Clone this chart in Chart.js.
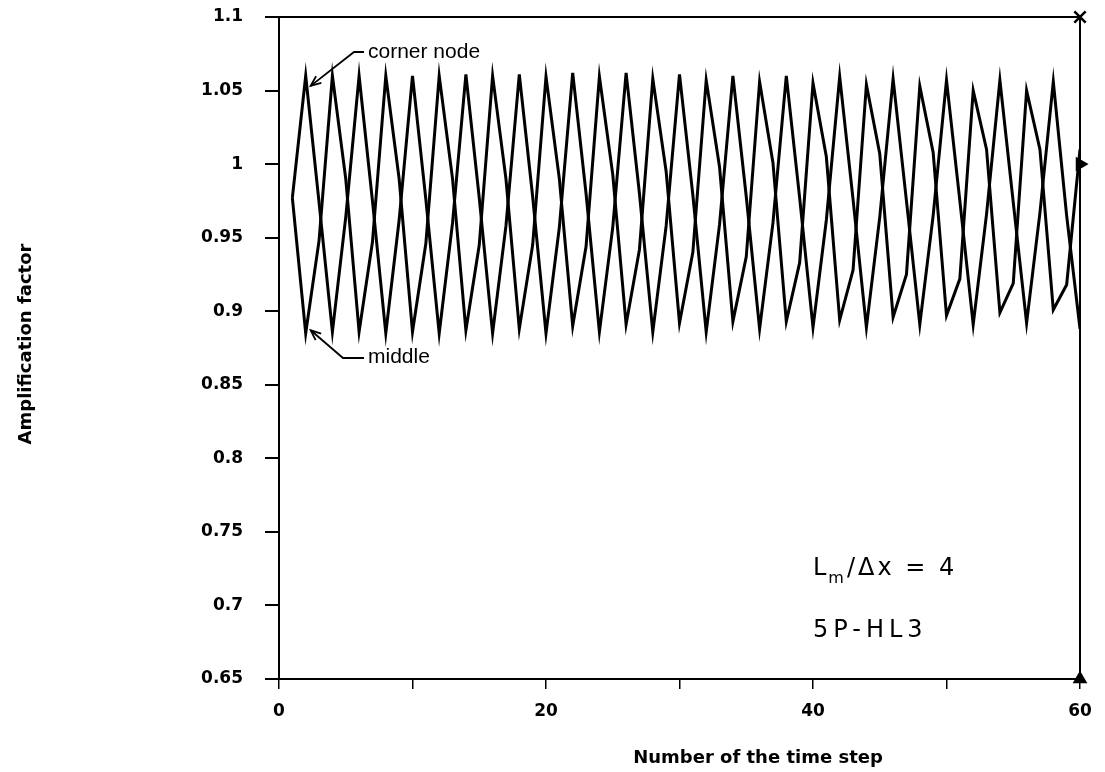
<!DOCTYPE html>
<html lang="en">
<head>
<meta charset="UTF-8">
<title>Amplification factor</title>
<script src="https://cdn.jsdelivr.net/npm/chart.js"></script>
<style>
  body { margin: 0; background: #fff; }
  canvas { display: block; }
</style>
</head>
<body>
<canvas id="ampChart" width="1105" height="772"></canvas>
<script>
// number of the time step
const steps = [1, 2, 3, 4, 5, 6, 7, 8, 9, 10, 11, 12, 13, 14, 15, 16, 17, 18, 19, 20,
               21, 22, 23, 24, 25, 26, 27, 28, 29, 30, 31, 32, 33, 34, 35, 36, 37, 38, 39, 40,
               41, 42, 43, 44, 45, 46, 47, 48, 49, 50, 51, 52, 53, 54, 55, 56, 57, 58, 59, 60];

// amplification factor, corner node
const cornerNode = [0.977, 1.060, 0.974, 0.886, 0.964, 1.060, 0.975, 0.885, 0.962, 1.060,
                    0.976, 0.885, 0.960, 1.061, 0.977, 0.885, 0.958, 1.061, 0.978, 0.885,
                    0.957, 1.062, 0.980, 0.886, 0.957, 1.062, 0.980, 0.886, 0.958, 1.061,
                    0.979, 0.886, 0.959, 1.060, 0.978, 0.888, 0.960, 1.060, 0.977, 0.889,
                    0.962, 1.0595, 0.976, 0.889, 0.964, 1.058, 0.975, 0.891, 0.965, 1.057,
                    0.975, 0.891, 0.966, 1.057, 0.974, 0.892, 0.967, 1.056, 0.965, 0.888];

// amplification factor, middle
const middleNode = [0.977, 0.885, 0.948, 1.060, 0.990, 0.886, 0.947, 1.060, 0.990, 0.886,
                    0.946, 1.060, 0.990, 0.887, 0.945, 1.060, 0.990, 0.888, 0.945, 1.0595,
                    0.990, 0.890, 0.944, 1.0595, 0.993, 0.891, 0.942, 1.058, 0.995, 0.892,
                    0.940, 1.057, 0.998, 0.893, 0.937, 1.056, 1.001, 0.893, 0.933, 1.055,
                    1.005, 0.894, 0.928, 1.054, 1.007, 0.896, 0.925, 1.053, 1.008, 0.897,
                    0.922, 1.050, 1.010, 0.899, 0.919, 1.050, 1.010, 0.901, 0.918, 1.010];

// the three symbols sitting on the right edge
const markerSteps = [60, 60, 60];
const markerValues = [1.1, 1.0, 0.65];

const xTicksShown = [0, 20, 40, 60];

const toPoints = (xs, ys) => xs.map((s, i) => ({ x: s, y: ys[i] }));

// frame, axis titles and the notes on the plot
const decorations = {
    id: 'decorations',
    afterDraw(chart) {
        const { ctx, chartArea: a, scales: { x, y } } = chart;
        ctx.save();
        ctx.strokeStyle = '#000';
        ctx.fillStyle = '#000';

        // top and right edges of the box
        ctx.lineWidth = 2;
        ctx.beginPath();
        ctx.moveTo(a.left, a.top);
        ctx.lineTo(a.right, a.top);
        ctx.lineTo(a.right, a.bottom);
        ctx.stroke();

        // axis titles
        ctx.font = 'bold 18px "DejaVu Sans"';
        ctx.textAlign = 'center';
        ctx.textBaseline = 'middle';
        ctx.fillText('Number of the time step', 758, 758);
        ctx.save();
        ctx.translate(26, 344);
        ctx.rotate(-Math.PI / 2);
        ctx.fillText('Amplification factor', 0, 0);
        ctx.restore();

        // arrows to the first peak / trough
        const arrow = (pts) => {
            ctx.lineWidth = 1.8;
            ctx.beginPath();
            ctx.moveTo(pts[0][0], pts[0][1]);
            for (let i = 1; i < pts.length; i++) ctx.lineTo(pts[i][0], pts[i][1]);
            ctx.stroke();
            const [tx, ty] = pts[pts.length - 1];
            const [px, py] = pts[pts.length - 2];
            const ang = Math.atan2(ty - py, tx - px);
            ctx.beginPath();
            ctx.moveTo(tx - 11 * Math.cos(ang - 0.4), ty - 11 * Math.sin(ang - 0.4));
            ctx.lineTo(tx, ty);
            ctx.lineTo(tx - 11 * Math.cos(ang + 0.4), ty - 11 * Math.sin(ang + 0.4));
            ctx.stroke();
        };
        const px2 = x.getPixelForValue(steps[1]);
        const cTop = y.getPixelForValue(cornerNode[1]);
        const mBot = y.getPixelForValue(middleNode[1]);
        arrow([[364, 52], [354, 52], [px2 + 5, cTop + 10]]);
        arrow([[364, 358], [343, 358], [px2 + 5, mBot - 3]]);

        ctx.font = '21px "Liberation Sans"';
        ctx.textAlign = 'left';
        ctx.fillText('corner node', 368, 52);
        ctx.fillText('middle', 368, 357);

        // case label
        ctx.font = '24px "DejaVu Sans"';
        ctx.textBaseline = 'alphabetic';
        ctx.letterSpacing = '3px';
        let cx = 813;
        ctx.fillText('L', cx, 575);
        cx += ctx.measureText('L').width - 1;
        ctx.font = '16px "DejaVu Sans"';
        ctx.fillText('m', cx, 583);
        cx += ctx.measureText('m').width;
        ctx.font = '24px "DejaVu Sans"';
        ctx.fillText('/\u0394x = 4', cx, 575);
        ctx.letterSpacing = '5px';
        ctx.fillText('5P-HL3', 813, 637);
        ctx.restore();
    }
};

new Chart(document.getElementById('ampChart'), {
    type: 'line',
    data: {
        datasets: [
            {
                label: 'corner node',
                data: toPoints(steps, cornerNode),
                borderColor: '#000',
                borderWidth: 3,
                pointRadius: 0,
                tension: 0,
                fill: false
            },
            {
                label: 'middle',
                data: toPoints(steps, middleNode),
                borderColor: '#000',
                borderWidth: 3,
                pointRadius: 0,
                tension: 0,
                fill: false
            },
            {
                label: 'markers',
                data: toPoints(markerSteps, markerValues),
                showLine: false,
                pointStyle: ['crossRot', 'triangle', 'triangle'],
                rotation: [0, 90, 0],
                pointRadius: [8, 6, 6],
                borderColor: '#000',
                backgroundColor: '#000',
                borderWidth: 2.5,
                clip: false
            }
        ]
    },
    options: {
        responsive: false,
        animation: false,
        layout: { autoPadding: false, padding: { top: 17, right: 25, left: 0, bottom: 0 } },
        plugins: { legend: { display: false }, tooltip: { enabled: false } },
        scales: {
            x: {
                type: 'linear',
                min: 0,
                max: 60,
                afterFit: (s) => { s.height = 93; },
                ticks: {
                    stepSize: 10,
                    color: '#000',
                    padding: 12,
                    font: { family: 'DejaVu Sans', size: 17, weight: 'bold' },
                    maxRotation: 0,
                    callback: (v) => xTicksShown.includes(v) ? String(v) : ''
                },
                grid: { drawOnChartArea: false, color: '#000', lineWidth: 1.5, tickLength: 10 },
                border: { color: '#000', width: 2 }
            },
            y: {
                min: 0.65,
                max: 1.1,
                // the tick padding would otherwise push the plot top down
                afterFit: (s) => { s.width = 279; s.paddingTop = 10; s.paddingBottom = 10; },
                ticks: {
                    stepSize: 0.05,
                    color: '#000',
                    padding: 22,
                    font: { family: 'DejaVu Sans', size: 17, weight: 'bold' },
                    callback: (v) => String(Number(v.toFixed(2)))
                },
                grid: { drawOnChartArea: false, color: '#000', lineWidth: 2, tickLength: 14 },
                border: { color: '#000', width: 2 }
            }
        }
    },
    plugins: [decorations]
});
</script>
</body>
</html>
